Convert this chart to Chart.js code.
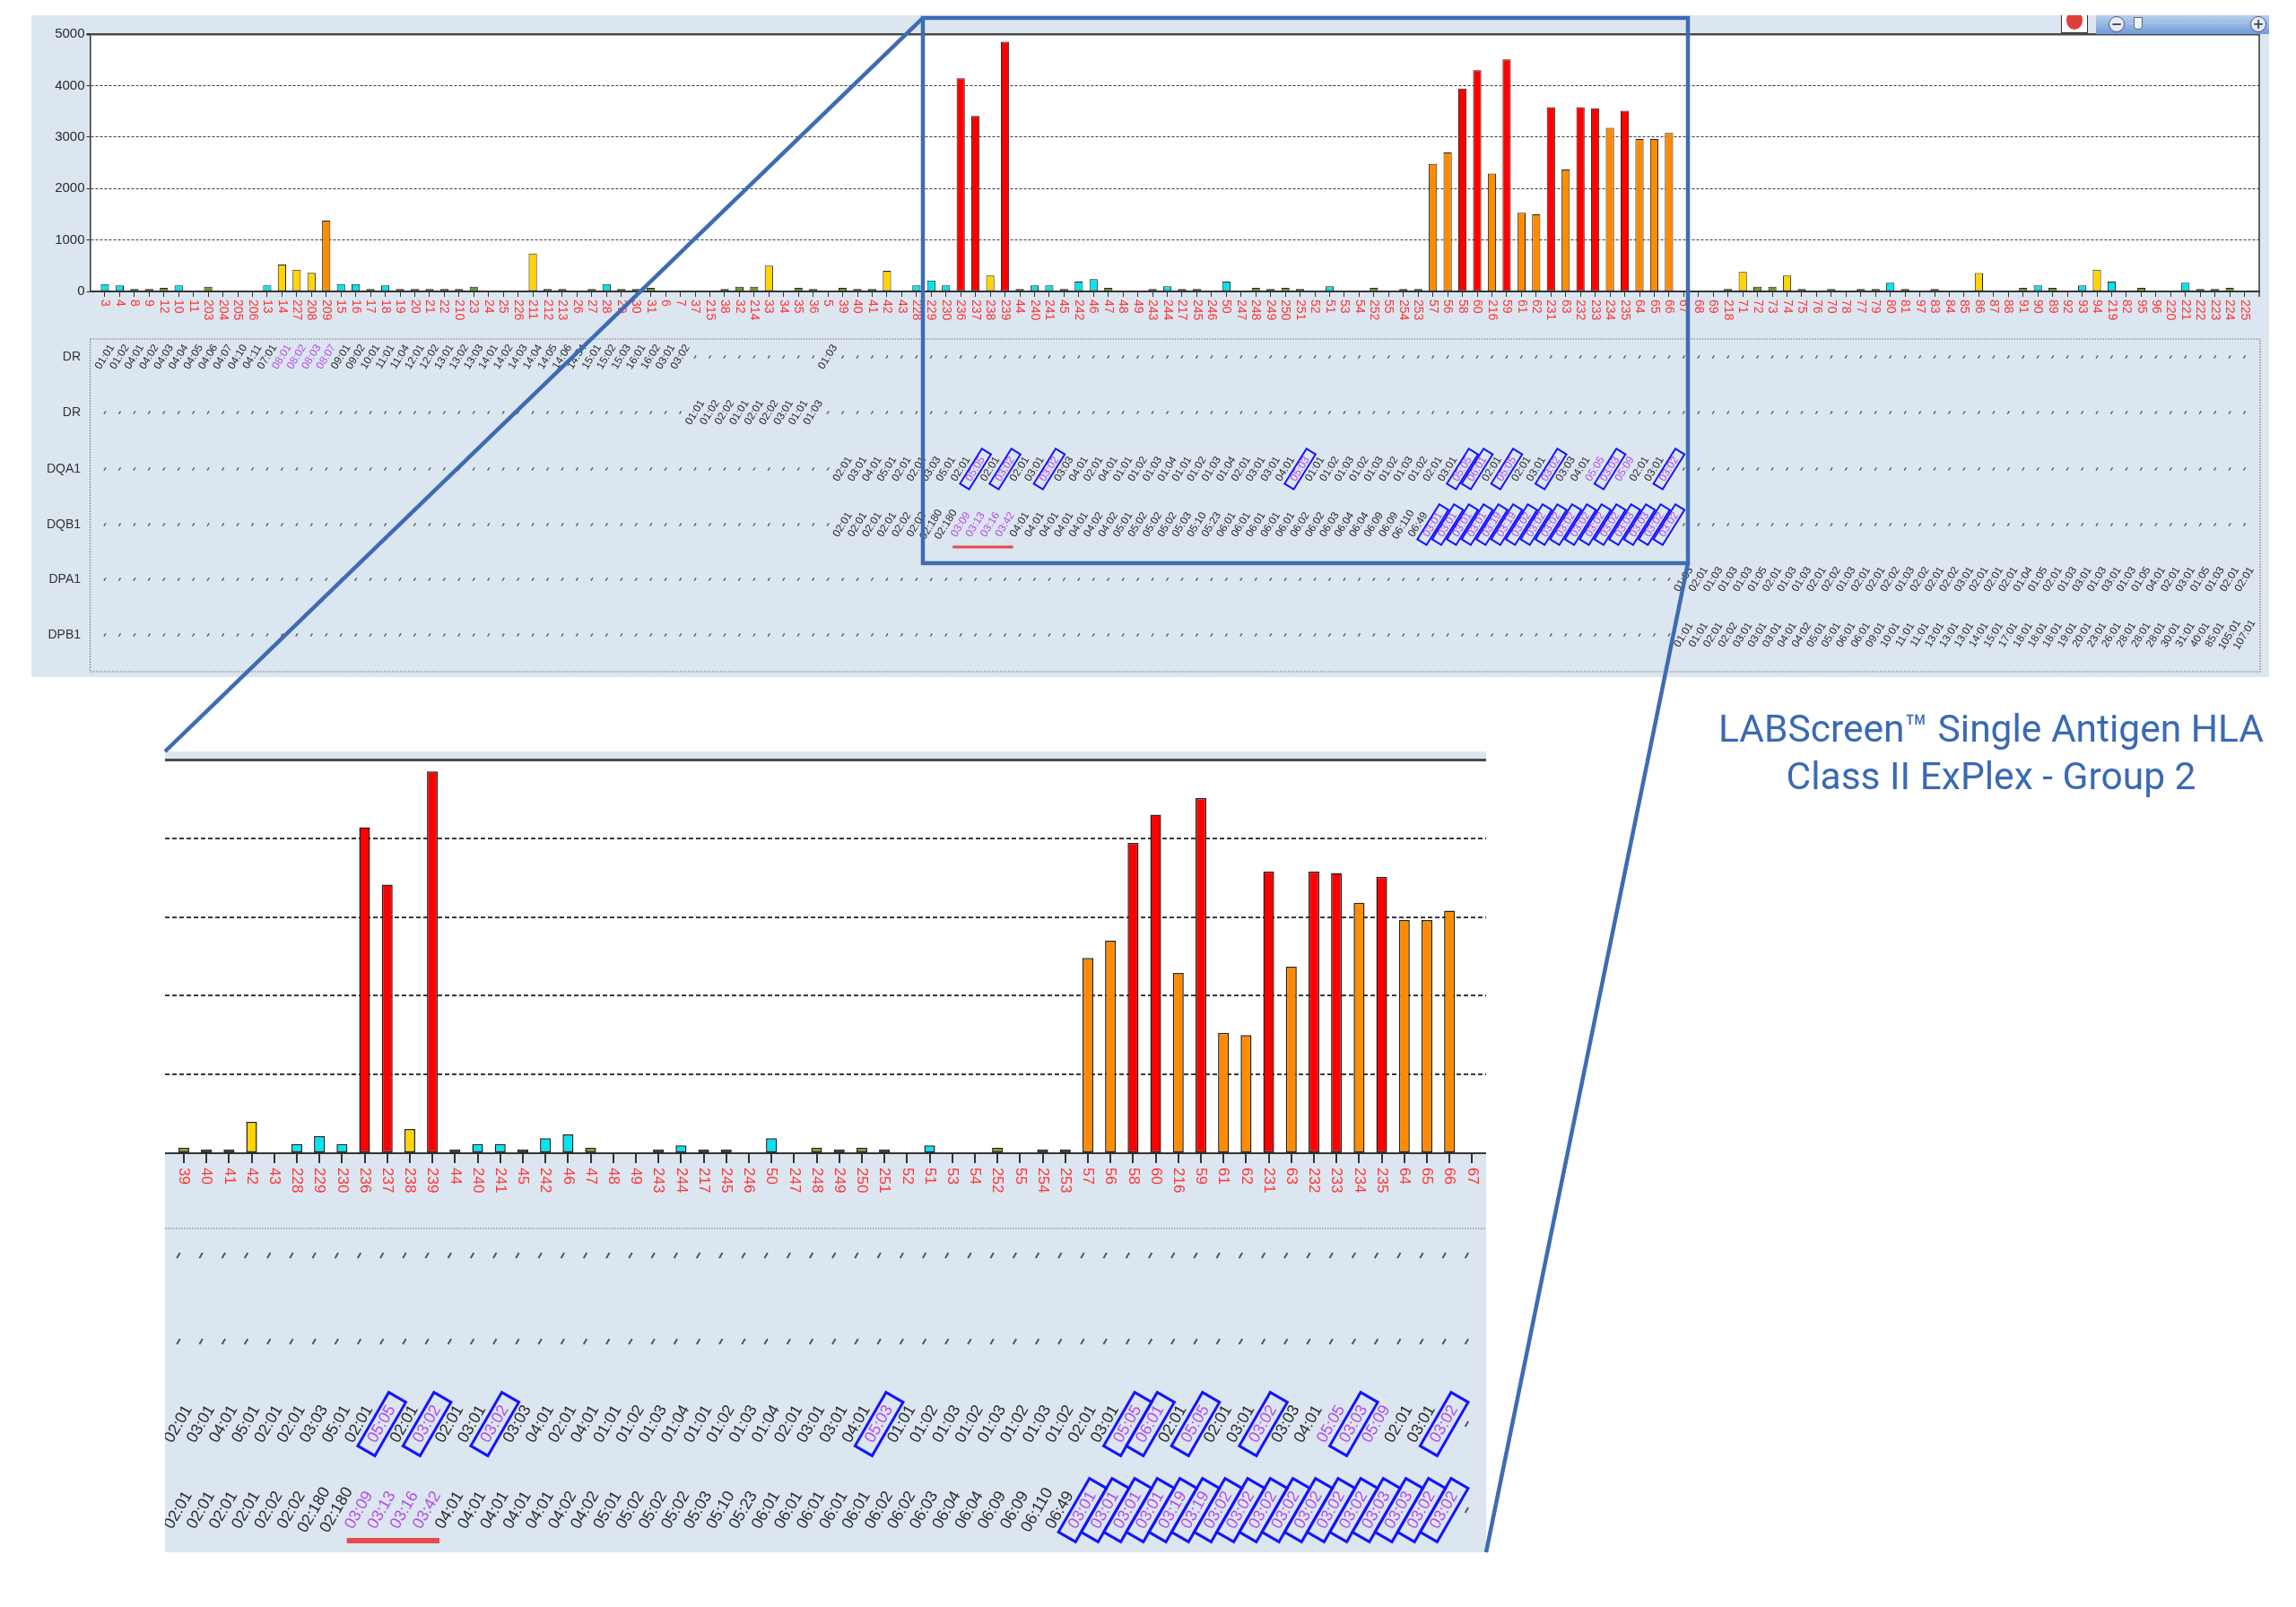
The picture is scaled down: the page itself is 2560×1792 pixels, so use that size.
<!DOCTYPE html>
<html>
<head>
<meta charset="utf-8">
<title>LABScreen Single Antigen HLA Class II ExPlex - Group 2</title>
<script src="https://cdn.jsdelivr.net/npm/chart.js@4.4.0/dist/chart.umd.min.js"></script>
<style>
  html, body { margin: 0; padding: 0; background: #fff; }
  #page { position: relative; width: 2560px; height: 1792px; overflow: hidden; }
  canvas { position: absolute; }
  #topChart { left: 35px; top: 17px; }
  #zoomChart { left: 184px; top: 838px; }
  #overlay { position: absolute; left: 0; top: 0; pointer-events: none; }
  #caption {
    position: absolute; left: 1880px; top: 786px; width: 680px;
    text-align: center; font-family: Roboto, 'Open Sans', sans-serif;
    font-size: 42.5px; line-height: 53px; color: #3a6ab4;
  }
  #recButton {
    position: absolute; left: 2298px; top: 17px; width: 28px; height: 19px;
    background: #fff; border: 1px solid #333; border-top: none; overflow: hidden;
  }
  #recButton span {
    position: absolute; left: 5px; top: -5px; width: 18px; height: 21px;
    border-radius: 50%; background: #df3f3a;
  }
  #zoomBar {
    position: absolute; left: 2337px; top: 17px; width: 193px; height: 21px;
    background: linear-gradient(to bottom, #b9d0ef, #6f9bd8);
  }
  #zoomBar .btn {
    position: absolute; top: 1px; width: 16px; height: 16px; border: 1.5px solid #556;
    border-radius: 50%; background: #e3ecf9; color: #445;
    font: bold 15px/16px 'DejaVu Sans', sans-serif; text-align: center;
  }
  #zoomBar .minus { left: 14px; }
  #zoomBar .plus { left: 172px; }
  #zoomBar .track { position: absolute; left: 34px; right: 24px; top: 8px; height: 2px; background: #a8c0e4; }
  #zoomBar .thumb {
    position: absolute; left: 42px; top: 2px; width: 8px; height: 12px;
    background: #eef3fb; border: 1px solid #667; border-radius: 0 0 4px 4px;
  }
</style>
</head>
<body>
<div id="page">
  <canvas id="topChart" width="2495" height="738"></canvas>
  <canvas id="zoomChart" width="1473" height="893"></canvas>
  <div id="recButton"><span></span></div>
  <div id="zoomBar"><span class="btn minus">−</span><span class="track"></span><span class="thumb"></span><span class="btn plus">+</span></div>
  <svg id="overlay" width="2560" height="1792">
    <g stroke="#3d6cb3" stroke-width="4.5" fill="none">
      <rect x="1029" y="20" width="853" height="608"></rect>
      <line x1="1029" y1="20" x2="184" y2="838"></line>
      <line x1="1882" y1="628" x2="1657" y2="1731"></line>
    </g>
  </svg>
  <div id="caption">LABScreen™ Single Antigen HLA<br>Class II ExPlex - Group 2</div>
</div>

<script>
// bead numbers in plot order
const beadIds = [
  '3','4','8','9','12','10','11','203','204','205','206','13','14','227','208','209',
  '15','16','17','18','19','20','21','22','210','23','24','25','226','211','212','213',
  '26','27','28','29','30','31','6','7','37','215','38','32','214','33','34','35','36','5',
  '39','40','41','42','43','228','229','230','236','237','238','239','44','240','241','45',
  '242','46','47','48','49','243','244','217','245','246','50','247','248','249','250','251',
  '52','51','53','54','252','55','254','253','57','56','58','60','216','59','61','62',
  '231','63','232','233','234','235','64','65','66','67',
  '68','69','218','71','72','73','74','75','76','70','78','77','79','80','81','97',
  '83','84','85','86','87','88','91','90','89','92','93','94','219','82','95','96',
  '220','221','222','223','224','225'
];

// MFI per bead, same order
const mfiValues = [
  145,116,47,47,70,116,0,93,0,0,0,116,523,424,360,1378,
  145,145,47,116,47,47,47,47,47,93,0,0,0,738,47,47,
  0,47,145,47,47,70,0,0,0,0,47,93,93,500,0,70,47,0,
  70,47,47,400,0,116,215,116,4140,3410,308,4850,47,116,116,47,
  192,238,70,0,0,47,100,47,47,0,192,0,70,47,70,47,
  0,100,0,0,70,0,47,47,2480,2700,3940,4300,2290,4510,1530,1500,
  3580,2370,3580,3560,3180,3510,2960,2960,3080,0,
  0,0,47,378,93,93,308,47,0,47,0,47,47,169,47,0,
  47,0,0,355,0,0,70,116,70,0,116,424,192,0,70,0,
  0,169,47,47,70,0
];

const yTicks = [0, 1000, 2000, 3000, 4000, 5000];

// alleles: '*' = positive allele (purple), '[..]' = boxed
const drb1Alleles = [
  '01:01','01:02','04:01','04:02','04:03','04:04','04:05','04:06','04:07','04:10','04:11','07:01',
  '08:01*','08:02*','08:03*','08:07*','09:01','09:02','10:01','11:01','11:04','12:01','12:02',
  '13:01','13:02','13:03','14:01','14:02','14:03','14:04','14:05','14:06','14:54',
  '15:01','15:02','15:03','16:01','16:02','03:01','03:02'
];
const drb1LateAlleles = ['01:03'];
const drb345Alleles = ['01:01','01:02','02:02','01:01','02:01','02:02','03:01','01:01','01:03'];
const dqa1Alleles = [
  '02:01','03:01','04:01','05:01','02:01','02:01','03:03','05:01','02:01','[05:05]','02:01','[03:02]',
  '02:01','03:01','[03:02]','03:03','04:01','02:01','04:01','01:01','01:02','01:03','01:04',
  '01:01','01:02','01:03','01:04','02:01','03:01','03:01','04:01','[05:03]','01:01','01:02',
  '01:03','01:02','01:03','01:02','01:03','01:02','02:01','03:01','[05:05]','[06:01]','02:01',
  '[05:05]','02:01','03:01','[03:02]','03:03','04:01','05:05*','[03:03]','05:09*','02:01','03:01','[03:02]'
];
const dqb1Alleles = [
  '02:01','02:01','02:01','02:01','02:02','02:02','02:180','02:180','03:09*','03:13*','03:16*','03:42*',
  '04:01','04:01','04:01','04:01','04:01','04:02','04:02','05:01','05:02','05:02','05:02','05:03',
  '05:10','05:23','06:01','06:01','06:01','06:01','06:01','06:02','06:02','06:03','06:04','06:04',
  '06:09','06:09','06:110','06:49',
  '[03:01]','[03:01]','[03:01]','[03:01]','[03:19]','[03:19]','[03:02]','[03:02]','[03:02]',
  '[03:02]','[03:02]','[03:02]','[03:02]','[03:03]','[03:03]','[03:02]','[03:02]'
];
const dpa1Alleles = [
  '01:03','02:01','01:03','01:03','01:03','01:05','02:01','01:03','01:03','02:01','02:02','01:03',
  '02:01','02:01','02:02','01:03','02:02','02:01','02:02','03:01','02:01','02:01','02:01','01:04',
  '01:05','02:01','01:03','03:01','01:03','03:01','01:03','01:05','04:01','02:01','03:01','01:05',
  '01:03','02:01','02:01'
];
const dpb1Alleles = [
  '01:01','01:01','02:01','02:02','03:01','03:01','03:01','04:01','04:02','05:01','05:01','06:01',
  '06:01','09:01','10:01','11:01','11:01','13:01','13:01','13:01','14:01','15:01','17:01','18:01',
  '18:01','18:01','19:01','20:01','23:01','26:01','28:01','28:01','28:01','30:01','31:01','40:01',
  '85:01','105:01','107:01'
];
const underlinedBeads = ['236', '239'];

function placeAlleles(segments) {
  const row = beadIds.map(() => '');
  segments.forEach(([bead, list]) => {
    const start = beadIds.indexOf(bead);
    list.forEach((a, k) => { row[start + k] = a; });
  });
  return row;
}

const locusRows = [
  { name: 'DR', cells: placeAlleles([['3', drb1Alleles], ['5', drb1LateAlleles]]) },
  { name: 'DR', cells: placeAlleles([['37', drb345Alleles]]) },
  { name: 'DQA1', cells: placeAlleles([['39', dqa1Alleles]]) },
  { name: 'DQB1', cells: placeAlleles([['39', dqb1Alleles]]) },
  { name: 'DPA1', cells: placeAlleles([['67', dpa1Alleles]]) },
  { name: 'DPB1', cells: placeAlleles([['67', dpb1Alleles]]) }
];

function barColor(v) {
  if (v >= 3300) return '#ff0000';
  if (v >= 1000) return '#ff8c00';
  if (v >= 300) return '#ffd400';
  if (v >= 100) return '#00e5ef';
  return '#6f9a1f';
}

const FONT = '"Liberation Sans", Arial, sans-serif';

function drawBeadLabels(chart, view, ids) {
  const { ctx, chartArea: a } = chart;
  const xs = chart.scales.x;
  const y0 = a.bottom + view.tickLen + view.labelGap;
  ctx.save();
  ctx.font = view.beadFont + 'px ' + FONT;
  ctx.fillStyle = '#ff3434';
  ctx.textAlign = 'left';
  ctx.textBaseline = 'middle';
  ids.forEach((id, k) => {
    ctx.save();
    ctx.translate(xs.getPixelForValue(k), y0);
    ctx.rotate(Math.PI / 2);
    ctx.fillText(id, 0, 0);
    ctx.restore();
  });
  ctx.restore();
}

function drawAlleleTable(chart, view, ids, first) {
  const { ctx, chartArea: a } = chart;
  const xs = chart.scales.x;
  const t = view.table;
  const unit = xs.getPixelForValue(1) - xs.getPixelForValue(0);

  ctx.save();
  ctx.strokeStyle = '#777';
  ctx.lineWidth = 1.2;
  ctx.setLineDash([1.5, 1.5]);
  ctx.beginPath();
  if (t.bottom) {
    ctx.rect(a.left, t.top, a.right - a.left + 1, t.bottom - t.top);
  } else {
    ctx.moveTo(0, t.top);
    ctx.lineTo(chart.width, t.top);
  }
  ctx.stroke();
  ctx.setLineDash([]);

  t.rowY.forEach((y, r) => {
    const row = locusRows[r];
    if (t.nameX) {
      ctx.font = '14px ' + FONT;
      ctx.fillStyle = '#333';
      ctx.textAlign = 'right';
      ctx.textBaseline = 'middle';
      ctx.fillText(row.name, t.nameX, y);
    }
    ids.forEach((id, k) => {
      const allele = row.cells[first + k];
      ctx.save();
      ctx.translate(xs.getPixelForValue(k) + t.offsetX, y);
      ctx.rotate(-t.angle);
      if (!allele) {
        ctx.strokeStyle = '#555';
        ctx.lineWidth = t.dotWidth;
        ctx.beginPath();
        ctx.moveTo(-t.dotLen / 2, 0);
        ctx.lineTo(t.dotLen / 2, 0);
        ctx.stroke();
      } else {
        const boxed = allele.startsWith('[');
        const marked = boxed || allele.endsWith('*');
        const text = allele.replace(/[\[\]*]/g, '');
        ctx.font = t.font + 'px ' + FONT;
        ctx.textAlign = 'center';
        ctx.textBaseline = 'middle';
        ctx.fillStyle = marked ? '#b44ee8' : '#2b2b2b';
        ctx.fillText(text, 0, 0);
        if (boxed) {
          const w = ctx.measureText(text).width + 2 * t.boxPad;
          ctx.strokeStyle = '#1414ff';
          ctx.lineWidth = t.boxLine;
          ctx.strokeRect(-w / 2, -t.boxH / 2, w, t.boxH);
        }
      }
      ctx.restore();
    });
  });

  const k1 = beadIds.indexOf(underlinedBeads[0]) - first;
  const k2 = beadIds.indexOf(underlinedBeads[1]) - first;
  ctx.strokeStyle = '#e84a4c';
  ctx.lineWidth = t.underlineW;
  ctx.beginPath();
  ctx.moveTo(xs.getPixelForValue(k1) - 0.55 * unit + t.offsetX, t.underlineY);
  ctx.lineTo(xs.getPixelForValue(k2) + 0.55 * unit + t.offsetX, t.underlineY);
  ctx.stroke();
  ctx.restore();
}

function buildChart(canvasId, view) {
  const first = beadIds.indexOf(view.firstBead);
  const last = beadIds.indexOf(view.lastBead);
  const ids = beadIds.slice(first, last + 1);
  const points = mfiValues.slice(first, last + 1).map((v, k) => ({ x: k, y: v }));

  const panelPlugin = {
    id: 'panel',
    beforeDraw(chart) {
      const { ctx, chartArea: a } = chart;
      ctx.save();
      ctx.fillStyle = '#dce6f0';
      ctx.fillRect(0, 0, chart.width, chart.height);
      ctx.fillStyle = '#fff';
      ctx.fillRect(a.left, a.top, a.right - a.left, a.bottom - a.top);
      ctx.restore();
    },
    afterDraw(chart) {
      const { ctx, chartArea: a } = chart;
      if (view.frameRight) {
        ctx.save();
        ctx.strokeStyle = '#333';
        ctx.lineWidth = 1.5;
        ctx.beginPath();
        ctx.moveTo(a.right, a.top);
        ctx.lineTo(a.right, a.bottom + view.tickLen);
        ctx.stroke();
        ctx.restore();
      }
      drawBeadLabels(chart, view, ids);
      drawAlleleTable(chart, view, ids, first);
    }
  };

  return new Chart(document.getElementById(canvasId), {
    type: 'bar',
    data: {
      datasets: [{
        data: points,
        backgroundColor: ctx => barColor(ctx.raw.y),
        borderColor: '#222',
        borderWidth: view.barBorder,
        borderSkipped: false,
        inflateAmount: 0,
        categoryPercentage: 1,
        barPercentage: view.barPct
      }]
    },
    options: {
      responsive: false,
      animation: false,
      events: [],
      layout: { padding: view.padding },
      plugins: { legend: { display: false }, tooltip: { enabled: false } },
      scales: {
        x: {
          type: 'linear',
          bounds: 'data',
          offset: false,
          min: view.xMin,
          max: ids.length - 1 + view.xMaxPad,
          afterBuildTicks: s => { s.ticks = ids.map((_, k) => ({ value: k })); },
          afterFit: s => { s.height = view.xAxisHeight; },
          ticks: { display: false, autoSkip: false },
          grid: { offset: false, drawOnChartArea: false, tickLength: view.tickLen, color: '#333', lineWidth: view.tickWidth },
          border: { color: '#333', width: view.axisWidth }
        },
        y: {
          min: 0,
          max: 5000,
          afterBuildTicks: s => { s.ticks = yTicks.map(v => ({ value: v })); },
          afterFit: s => { s.width = view.yAxisWidth; },
          ticks: {
            display: view.showY, color: '#2a2a2a', padding: 2,
            font: { family: FONT, size: 15 },
            callback: v => String(v)
          },
          grid: {
            color: ctx => (ctx.tick && ctx.tick.value === 5000) ? '#4a4a4a' : '#3a3a3a',
            lineWidth: ctx => (ctx.tick && ctx.tick.value === 5000) ? view.topLine : view.gridWidth,
            drawTicks: view.showY,
            tickLength: 4,
            tickColor: '#333'
          },
          border: {
            display: view.showY,
            color: '#333',
            width: 1.5,
            dash: ctx => (ctx.tick && (ctx.tick.value === 0 || ctx.tick.value === 5000)) ? [] : view.gridDash
          }
        }
      }
    },
    plugins: [panelPlugin]
  });
}

buildChart('topChart', {
  firstBead: '3', lastBead: '225',
  xMin: -1, xMaxPad: 1,
  padding: { left: 0, top: 21, right: 11, bottom: 400 },
  yAxisWidth: 65.5, xAxisHeight: 30, showY: true, frameRight: true,
  barPct: 0.56, barBorder: 1, tickLen: 6, tickWidth: 1, axisWidth: 1.5,
  labelGap: 3, beadFont: 14, gridDash: [3, 2], gridWidth: 1, topLine: 2.5,
  table: {
    top: 361, bottom: 732, nameX: 55,
    rowY: [381, 443, 506, 568, 629, 691],
    font: 12, angle: 58 * Math.PI / 180, offsetX: 0,
    dotLen: 4, dotWidth: 1.3, boxPad: 8, boxH: 12, boxLine: 2,
    underlineY: 593, underlineW: 3
  }
});

buildChart('zoomChart', {
  firstBead: '39', lastBead: '67',
  xMin: -0.83, xMaxPad: 0.62,
  padding: { left: 0, top: 9, right: 0, bottom: 405 },
  yAxisWidth: 0, xAxisHeight: 40, showY: false, frameRight: false,
  barPct: 0.48, barBorder: 1.5, tickLen: 11, tickWidth: 2, axisWidth: 2,
  labelGap: 5, beadFont: 17, gridDash: [5, 3], gridWidth: 2, topLine: 3,
  table: {
    top: 532, bottom: 0, nameX: 0,
    rowY: [562, 658, 750, 846],
    font: 18, angle: 60 * Math.PI / 180, offsetX: -6,
    dotLen: 7, dotWidth: 2, boxPad: 12, boxH: 22, boxLine: 3,
    underlineY: 880, underlineW: 6
  }
});
</script>
</body>
</html>
